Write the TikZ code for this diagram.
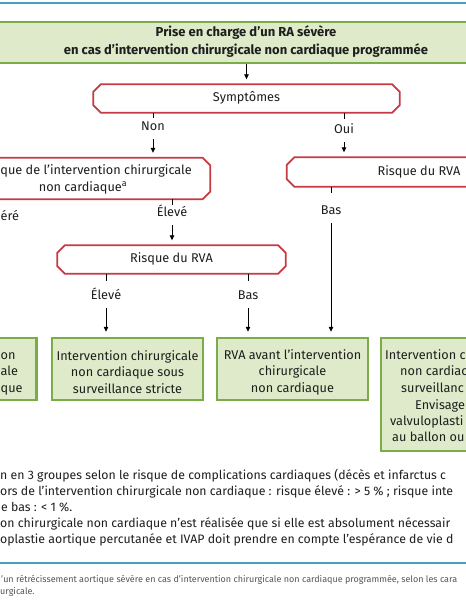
\documentclass[tikz,border=0pt]{standalone}
\usepackage{fontspec}
\setmainfont{Fira Sans}
\usetikzlibrary{arrows.meta}
\definecolor{gfill}{RGB}{222,234,201}
\definecolor{gline}{RGB}{122,172,72}
\definecolor{rline}{RGB}{198,58,68}
\definecolor{bline}{RGB}{72,160,190}
\definecolor{txt}{RGB}{30,30,30}
\definecolor{captxt}{RGB}{85,85,85}
\newcommand\chamf[1]{\draw[redline] ([xshift=7.5pt]#1.north west) -- ([xshift=-7.5pt]#1.north east) -- ([yshift=-7.5pt]#1.north east) -- ([yshift=7.5pt]#1.south east) -- ([xshift=-7.5pt]#1.south east) -- ([xshift=7.5pt]#1.south west) -- ([yshift=7.5pt]#1.south west) -- ([yshift=-7.5pt]#1.north west) -- cycle;}
\begin{document}
\begin{tikzpicture}[x=1pt,y=-1pt,
  every node/.style={text=txt},
  ff/.style={font=\fontsize{12.7}{16.5}\selectfont},
  frag/.style={ff, inner sep=0pt, text height=9pt, text depth=3pt},
  mtext/.style={ff, inner sep=0pt, align=center},
  gbox/.style={draw=gline, fill=gfill, line width=2.5pt, inner sep=0pt},
  rnode/.style={inner sep=0pt},
  redline/.style={draw=rline, line width=1.8pt},
  conn/.style={draw=black, line width=0.8pt},
  arr/.style={conn, -{Triangle[length=5pt,width=4.5pt]}, shorten <=6pt, shorten >=5pt},
  bl/.style={draw=bline, line width=1.5pt},
  fn/.style={frag, anchor=west, font=\fontsize{12.3}{16}\selectfont},
  captext/.style={font=\fontsize{9}{11}\selectfont, text=captxt, inner sep=0pt, anchor=west}
]
\useasboundingbox (0,0) rectangle (466,600);
\clip (0,0) rectangle (466,600);
\fill[white] (0,0) rectangle (466,600);
\draw[bl] (-5,3) -- (471,3);

% title
\node[gbox, minimum width=560pt, minimum height=41pt] (title) at (246,42.5) {};
\node[mtext, font=\fontsize{13}{18}\selectfont\bfseries] (titletext) at (246,42) {Prise en charge d’un RA sévère\\en cas d’intervention chirurgicale non cardiaque programmée};

% decision boxes
\node[rnode, frag, minimum width=306pt, minimum height=28pt] (symp) at (246.5,98.5) {Symptômes};
\chamf{symp}
\node[rnode, minimum width=280pt, minimum height=41pt] (L1) at (70,178.5) {};
\chamf{L1}
\node[frag, anchor=east] (L1a) at (192,171) {que de l’intervention chirurgicale};
\node[frag] (L1b) at (83,188) {non cardiaque\textsuperscript{a}};
\node[rnode, frag, minimum width=264pt, minimum height=29pt] (R1) at (419,172) {Risque du RVA};
\chamf{R1}
\node[rnode, frag, minimum width=228pt, minimum height=28pt] (R2) at (171.5,259.5) {Risque du RVA};
\chamf{R2}

% labels
\node[frag] (lNon) at (153,127) {Non};
\node[frag] (lOui) at (344,130) {Oui};
\node[frag, anchor=west] (lMod) at (0.5,217) {éré};
\node[frag] (lEl1) at (172,213) {Élevé};
\node[frag] (lBas1) at (331,211) {Bas};
\node[frag] (lEl2) at (106,296) {Élevé};
\node[frag] (lBas2) at (248,296) {Bas};

% outcome boxes
\node[gbox, minimum width=151pt, minimum height=62pt] (A) at (-39,369) {};
\node[gbox, minimum width=151pt, minimum height=62pt] (B) at (127.5,369) {};
\node[gbox, minimum width=151pt, minimum height=62pt] (C) at (292.5,369) {};
\node[gbox, minimum width=151pt, minimum height=113pt] (D) at (456.5,394.5) {};
\node[frag, anchor=west] (A1) at (0.5,356) {on};
\node[frag, anchor=west] (A2) at (0.5,372) {ale};
\node[frag, anchor=west] (A3) at (0.5,389) {que};
\node[mtext] (Bt) at (127.5,372) {Intervention chirurgicale\\non cardiaque sous\\surveillance stricte};
\node[mtext] (Ct) at (292.5,372) {RVA avant l’intervention\\chirurgicale\\non cardiaque};
\node[frag, anchor=west] (D1) at (385,356) {Intervention c};
\node[frag, anchor=west] (D2) at (400,372) {non cardiac};
\node[frag, anchor=west] (D3) at (401,389) {surveillanc};
\node[frag, anchor=west] (D4) at (415,406) {Envisage};
\node[frag, anchor=west] (D5) at (390,422) {valvuloplasti};
\node[frag, anchor=west] (D6) at (392,438) {au ballon ou};

% connectors
\draw[arr, shorten <=0pt] (symp.north |- title.south) -- (symp.north);
\draw[conn] (symp.south -| lNon) -- ++(0,5);
\draw[arr] (lNon.south) -- (L1.north -| lNon);
\draw[conn] (symp.south -| lOui) -- ++(0,6);
\draw[arr] (lOui.south) -- (R1.north -| lOui);
\draw[conn] (L1.south -| lEl1) -- ++(0,6);
\draw[arr] (lEl1.south) -- (R2.north -| lEl1);
\draw[conn] (R1.south -| lBas1) -- ++(0,6);
\draw[arr] (lBas1.south) -- (C.north -| lBas1);
\draw[conn] (R2.south -| lEl2) -- ++(0,7);
\draw[arr] (lEl2.south) -- (B.north -| lEl2);
\draw[conn] (R2.south -| lBas2) -- ++(0,7);
\draw[arr] (lBas2.south) -- (C.north -| lBas2);

% footnotes
\node[fn] (f1) at (0,476) {n en 3 groupes selon le risque de complications cardiaques (décès et infarctus c};
\node[fn] (f2) at (0,492) {ors de l’intervention chirurgicale non cardiaque : risque élevé : > 5 \% ; risque inte};
\node[fn] (f3) at (1,508) {e bas : < 1 \%.};
\node[fn] (f4) at (0,524) {on chirurgicale non cardiaque n’est réalisée que si elle est absolument nécessair};
\node[fn] (f5) at (0,540) {oplastie aortique percutanée et IVAP doit prendre en compte l’espérance de vie d};
\draw[bl] (-5,563) -- (471,563);
\node[captext] (c1) at (1,580) {’un rétrécissement aortique sévère en cas d’intervention chirurgicale non cardiaque programmée, selon les cara};
\node[captext] (c2) at (0,592) {urgicale.};
\end{tikzpicture}
\end{document}
